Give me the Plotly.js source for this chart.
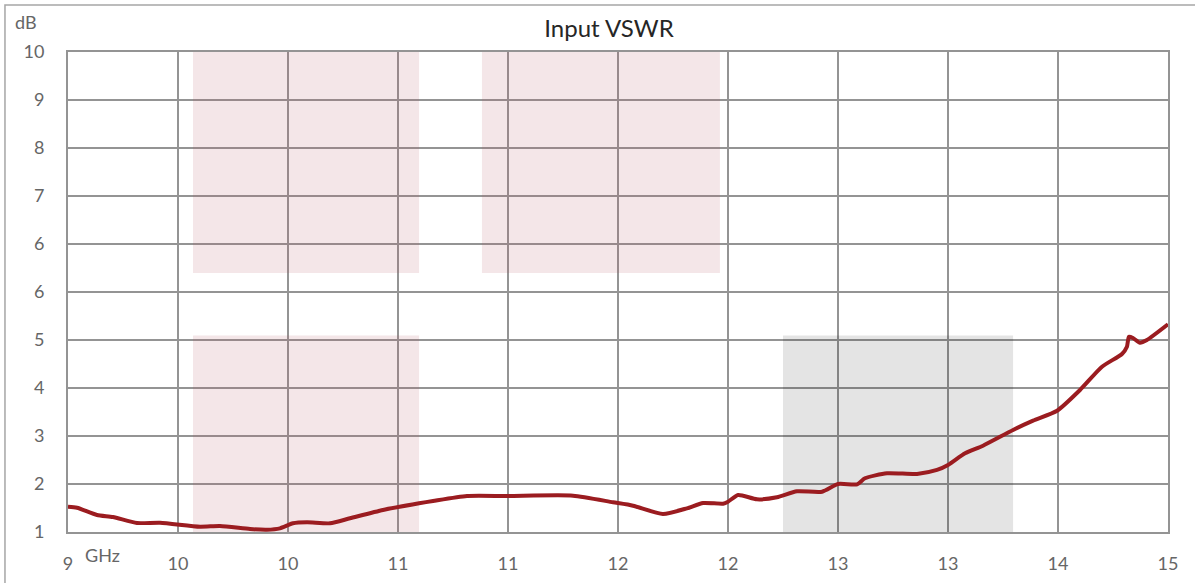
<!DOCTYPE html>
<html><head><meta charset="utf-8">
<script src="https://cdn.plot.ly/plotly-3.0.1.min.js"></script>
<style>html,body{margin:0;padding:0;background:#fff}#chart{width:1195px;height:583px}</style>
</head><body><div id="chart"></div>
<script>
// Frequency (GHz) and VSWR readings
const freq = [9.000,9.049,9.158,9.245,9.376,9.502,9.720,9.829,9.993,10.085,10.156,10.227,10.304,10.429,10.538,10.718,10.915,10.991,11.176,11.395,11.755,11.973,12.082,12.245,12.376,12.464,12.573,12.600,12.655,12.758,12.867,12.976,13.113,13.200,13.304,13.347,13.467,13.631,13.740,13.800,13.893,13.991,14.155,14.264,14.395,14.520,14.640,14.749,14.776,14.787,14.809,14.847,14.885,15.000];
const vswr = [1.474,1.456,1.319,1.281,1.169,1.174,1.099,1.113,1.056,1.043,1.069,1.163,1.182,1.163,1.257,1.413,1.538,1.581,1.675,1.675,1.681,1.557,1.493,1.338,1.444,1.544,1.531,1.568,1.694,1.613,1.651,1.763,1.756,1.900,1.894,2.007,2.101,2.088,2.163,2.256,2.476,2.618,2.913,3.087,3.274,3.663,4.099,4.338,4.474,4.662,4.638,4.549,4.600,4.894];

const xTickVals = [9,9.6,10.2,10.8,11.4,12,12.6,13.2,13.8,14.4,15];
const xTickText = ['9','10','10','11','11','12','12','13','13','14','15'];
const yTickVals = [1,1.9,2.8,3.7,4.6,5.5,6.4,7.3,8.2,9.1,10];
const yTickText = ['1','2','3','4','5','6','6','7','8','9','10'];

// Shaded bands: [x0, x1, y0, y1] in data units, and colour
const bandX0 = [9.682, 11.258, 9.682, 12.900];
const bandX1 = [10.915, 12.556, 10.915, 14.155];
const bandY0 = [5.856, 5.856, 0.325, 0.325];
const bandY1 = [10.225, 10.225, 4.684, 4.684];
const bandColor = ['rgba(180,80,90,0.14)','rgba(180,80,90,0.14)','rgba(180,80,90,0.14)','rgba(0,0,0,0.105)'];

const gridCol = '#949494';
const shapes = bandX0.map((x0,i)=>({type:'rect',xref:'x',yref:'y',layer:'between',
  x0:x0,x1:bandX1[i],y0:bandY0[i],y1:bandY1[i],fillcolor:bandColor[i],line:{width:0}}));
shapes.push({type:'rect',xref:'paper',yref:'paper',layer:'above',x0:-0.0573,x1:1.05,y0:-0.2,y1:1.098,
  line:{color:'#a6a6a6',width:1.5},fillcolor:'rgba(0,0,0,0)'});

const trace = {x:freq,y:vswr,type:'scatter',mode:'lines',
  line:{color:'#9b1c20',width:4,shape:'spline',smoothing:0.6},hoverinfo:'skip'};

const font = {family:'Lato, "Open Sans", sans-serif', color:'#666666', size:18};
const layout = {
  width:1195,height:583,
  margin:{l:68,r:27,t:52,b:51,pad:0},
  paper_bgcolor:'#ffffff',plot_bgcolor:'#ffffff',
  showlegend:false,
  font:font,
  title:{text:'Input VSWR',font:{family:'Lato, "Open Sans", sans-serif',size:24,color:'#262626'},
    xref:'container',yref:'container',x:609/1195,xanchor:'center',y:1-29/583,yanchor:'middle'},
  xaxis:{range:[9,15],tickvals:xTickVals,ticktext:xTickText,showgrid:true,gridcolor:gridCol,gridwidth:2,
    showline:true,mirror:true,linecolor:gridCol,linewidth:2,zeroline:false,ticks:'',ticklabelstandoff:14,
    tickfont:font,fixedrange:true},
  yaxis:{range:[1,10],tickvals:yTickVals,ticktext:yTickText,showgrid:true,gridcolor:gridCol,gridwidth:2,
    showline:true,mirror:true,linecolor:gridCol,linewidth:2,zeroline:false,ticks:'',ticklabelstandoff:18,
    tickfont:font,fixedrange:true},
  shapes:shapes,
  annotations:[
    {text:'dB',xref:'paper',yref:'paper',x:(13-68)/1100,y:(532-22)/480,xanchor:'left',yanchor:'middle',showarrow:false,font:font},
    {text:'GHz',xref:'paper',yref:'paper',x:(83-68)/1100,y:(532-555)/480,xanchor:'left',yanchor:'middle',showarrow:false,font:font}
  ]
};
Plotly.newPlot('chart',[trace],layout,{displayModeBar:false,staticPlot:true});
</script></body></html>
